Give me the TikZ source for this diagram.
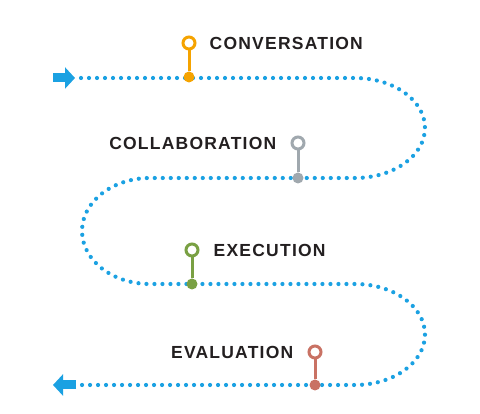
\documentclass[tikz,border=0pt]{standalone}
\usepackage{fontspec}
\newfontfamily\stepfont[LetterSpace=7]{Liberation Sans}
\usetikzlibrary{arrows.meta, positioning}

\definecolor{routeblue}{HTML}{1BA1E2}
\definecolor{labelgray}{HTML}{231F20}
\definecolor{convorange}{HTML}{F5A300}
\definecolor{collgray}{HTML}{A0A8AE}
\definecolor{execgreen}{HTML}{79A043}
\definecolor{evalred}{HTML}{C97264}

\tikzset{
	route/.style = {routeblue, line width = 4.2pt, line cap = round, dash pattern = on 0pt off 8pt},
	blockarrow/.style = {-{Triangle[length = 10pt, width = 21pt]}, routeblue, line width = 9pt},
	ringnode/.style = {circle, draw = #1, fill = white, line width = 3pt, minimum size = 12pt, inner sep = 0pt},
	dotnode/.style = {circle, fill = #1, minimum size = 11pt, inner sep = 0pt},
	stemline/.style = {draw = #1, line width = 3pt},
	steplabel/.style = {inner sep = 0pt, text = labelgray, font = \stepfont\bfseries\fontsize{17.5}{20}\selectfont}
}

\begin{document}
\begin{tikzpicture}[x = 1pt, y = 1pt]

	\useasboundingbox (0, 0) rectangle (480, 414);

	% Dotted route, snaking down
	
	\draw [route] (81, 336) -- (355, 336)
		arc [start angle = 90, end angle = -90, x radius = 70, y radius = 50] -- (150, 236)
		arc [start angle = 90, end angle = 270, x radius = 68, y radius = 53] -- (355, 130)
		arc [start angle = 90, end angle = -90, x radius = 70, y radius = 50.5] -- (81, 29);
	
	% In and out arrows
	
	\coordinate (instart) at (53, 336);
	\coordinate (intip) at (75, 336);
	\coordinate (outstart) at (76, 29);
	\coordinate (outtip) at (53, 29);
	
	\draw [blockarrow] (instart) -- (intip);
	\draw [blockarrow] (outstart) -- (outtip);
	
	% Stage markers
	
	\node [dotnode = convorange] (convdot) at (189, 337) {};
	\node [ringnode = convorange] (convring) at (189, 371) {};
	\draw [stemline = convorange] (convring) -- (convdot);
	
	\node [dotnode = collgray] (colldot) at (298, 236) {};
	\node [ringnode = collgray] (collring) at (298, 271) {};
	\draw [stemline = collgray] (collring) -- (colldot);
	
	\node [dotnode = execgreen] (execdot) at (192, 130) {};
	\node [ringnode = execgreen] (execring) at (192, 164) {};
	\draw [stemline = execgreen] (execring) -- (execdot);
	
	\node [dotnode = evalred] (evaldot) at (315, 29) {};
	\node [ringnode = evalred] (evalring) at (315, 62) {};
	\draw [stemline = evalred] (evalring) -- (evaldot);
	
	% Stage names
	
	\node [steplabel, right = 13pt of convring] (convlabel) {CONVERSATION};
	\node [steplabel, left = 14pt of collring] (colllabel) {COLLABORATION};
	\node [steplabel, right = 14pt of execring] (execlabel) {EXECUTION};
	\node [steplabel, left = 14pt of evalring] (evallabel) {EVALUATION};

\end{tikzpicture}
\end{document}
